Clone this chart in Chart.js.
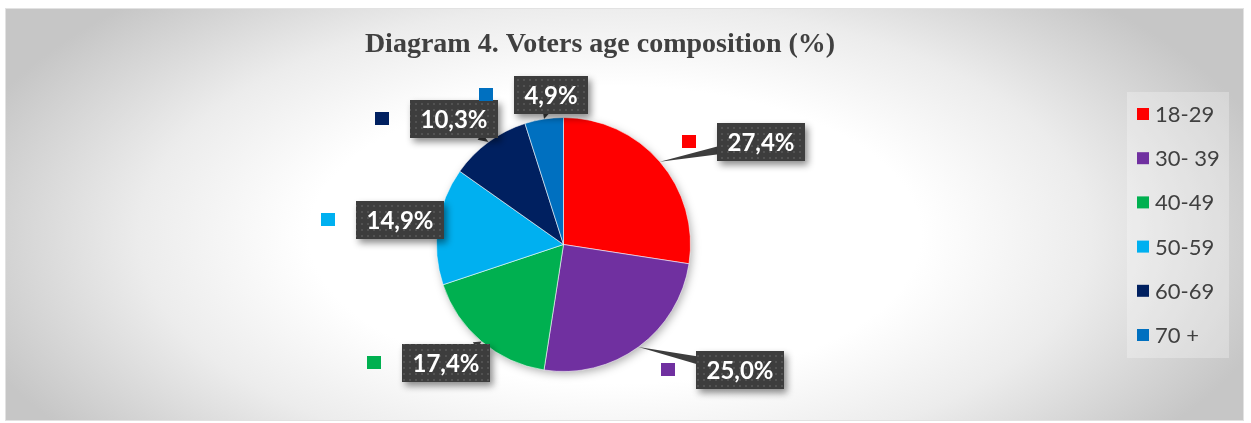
<!DOCTYPE html>
<html>
<head>
<meta charset="utf-8">
<script src="https://cdn.jsdelivr.net/npm/chart.js@4"></script>
<style>
  html, body { margin: 0; padding: 0; background: #ffffff; }
  #wrap { width: 1251px; height: 423px; position: relative; }
</style>
</head>
<body>
<div id="wrap"><canvas id="c"></canvas></div>
<script>
// ---- data ----
const categories = ['18-29', '30- 39', '40-49', '50-59', '60-69', '70 +'];
const shares = [27.4, 25.0, 17.4, 14.9, 10.3, 4.9];
const sliceColors = ['#FF0000', '#7030A0', '#00B050', '#00B0F0', '#002060', '#0070C0'];
const chartTitle = 'Diagram 4. Voters age composition (%)';

// ---- label layout (angle nudge in degrees, distance as multiple of radius) ----
const labelAngleNudge = [13.2, -18.4, 4.5, 0, -4.9, 4.2];
const labelDistance = [1.756, 1.709, 1.315, 1.30, 1.307, 1.18];

function fmt(v) { return v.toFixed(1).replace('.', ',') + '%'; }

function makePattern(ctx) {
  const p = document.createElement('canvas');
  p.width = 6; p.height = 6;
  const pc = p.getContext('2d');
  pc.fillStyle = '#3d3d3d';
  pc.fillRect(0, 0, 6, 6);
  pc.fillStyle = '#525252';
  pc.fillRect(1, 1, 2, 2);
  return ctx.createPattern(p, 'repeat');
}

const decorPlugin = {
  id: 'decor',
  beforeDraw(chart) {
    const ctx = chart.ctx;
    const W = chart.width, H = chart.height;
    ctx.save();
    ctx.fillStyle = '#ffffff';
    ctx.fillRect(0, 0, W, H);
    // panel with elliptical radial gradient
    const px = 5, py = 8, pw = 1239, ph = 413;
    ctx.save();
    ctx.beginPath();
    ctx.rect(px, py, pw, ph);
    ctx.clip();
    const cx = 615, cy = 235, rx = 680, ry = 330;
    ctx.translate(cx, cy);
    ctx.scale(rx / ry, 1);
    const g = ctx.createRadialGradient(0, 0, 0, 0, 0, ry);
    g.addColorStop(0, '#ffffff');
    g.addColorStop(0.45, '#ffffff');
    g.addColorStop(0.7, '#ececec');
    g.addColorStop(1, '#c6c6c6');
    ctx.fillStyle = g;
    ctx.fillRect(-2000, -2000, 4000, 4000);
    ctx.restore();
    ctx.strokeStyle = '#e2e2e2';
    ctx.lineWidth = 1;
    ctx.strokeRect(px + 0.5, py + 0.5, pw - 1, ph - 1);

    // title
    ctx.fillStyle = '#404040';
    ctx.font = 'bold 28px "Liberation Serif", "Times New Roman", serif';
    ctx.textAlign = 'center';
    ctx.textBaseline = 'alphabetic';
    ctx.fillText(chartTitle, 600, 52);

    // legend
    ctx.fillStyle = 'rgba(255,255,255,0.28)';
    ctx.fillRect(1127, 92, 102, 266);
    ctx.font = '22px Lato, sans-serif';
    ctx.textAlign = 'left';
    ctx.textBaseline = 'middle';
    categories.forEach((c, i) => {
      const y = 114 + i * 44.2;
      ctx.fillStyle = sliceColors[i];
      ctx.fillRect(1137, y - 6, 12, 12);
      ctx.fillStyle = '#404040';
      ctx.fillText(c, 1155, y + 1);
    });
    ctx.restore();
  },
  beforeDatasetsDraw(chart) {
    const arcs = chart.getDatasetMeta(0).data;
    if (!arcs.length) return;
    const a = arcs[0];
    const ctx = chart.ctx;
    ctx.save();
    ctx.shadowColor = 'rgba(0,0,0,0.35)';
    ctx.shadowBlur = 10;
    ctx.shadowOffsetX = 2;
    ctx.shadowOffsetY = 3;
    ctx.fillStyle = '#ffffff';
    ctx.beginPath();
    ctx.arc(a.x, a.y, a.outerRadius - 1, 0, Math.PI * 2);
    ctx.fill();
    ctx.restore();
  },
  afterDatasetsDraw(chart) {
    const ctx = chart.ctx;
    const arcs = chart.getDatasetMeta(0).data;
    const pattern = makePattern(ctx);
    ctx.save();
    ctx.font = 'bold 24px Lato, sans-serif';
    const boxes = arcs.map((arc, i) => {
      const mid = (arc.startAngle + arc.endAngle) / 2;
      const r = arc.outerRadius;
      const ex = arc.x + Math.cos(mid) * r;
      const ey = arc.y + Math.sin(mid) * r;
      const la = mid + labelAngleNudge[i] * Math.PI / 180;
      const lx = arc.x + Math.cos(la) * r * labelDistance[i];
      const ly = arc.y + Math.sin(la) * r * labelDistance[i];
      const text = fmt(shares[i]);
      const tw = ctx.measureText(text).width;
      const w = Math.round(tw + 21), h = 38;
      return { ex, ey, lx, ly, text, w, h, x: Math.round(lx - w / 2), y: Math.round(ly - h / 2) };
    });
    boxes.forEach((b, i) => {
      // leader wedge
      const inside = b.ex > b.x - 2 && b.ex < b.x + b.w + 2 && b.ey > b.y - 2 && b.ey < b.y + b.h + 2;
      const dx = b.lx - b.ex, dy = b.ly - b.ey;
      // intersection of segment edge->center with box border
      let t = 1;
      if (dx !== 0) {
        const tx1 = ((dx > 0 ? b.x : b.x + b.w) - b.ex) / dx;
        if (tx1 > 0 && tx1 < t) {
          const yy = b.ey + dy * tx1;
          if (yy >= b.y && yy <= b.y + b.h) t = tx1;
        }
      }
      if (dy !== 0) {
        const ty1 = ((dy > 0 ? b.y : b.y + b.h) - b.ey) / dy;
        if (ty1 > 0 && ty1 < t) {
          const xx = b.ex + dx * ty1;
          if (xx >= b.x && xx <= b.x + b.w) t = ty1;
        }
      }
      const bx = b.ex + dx * t, by = b.ey + dy * t;
      const len = Math.hypot(bx - b.ex, by - b.ey);
      if (!inside && len > 4) {
        const nx = -(by - b.ey) / len, ny = (bx - b.ex) / len;
        const hw = 4;
        ctx.save();
        ctx.fillStyle = '#3d3d3d';
        ctx.beginPath();
        ctx.moveTo(b.ex, b.ey);
        ctx.lineTo(bx + nx * hw + (bx - b.ex) / len * 3, by + ny * hw + (by - b.ey) / len * 3);
        ctx.lineTo(bx - nx * hw + (bx - b.ex) / len * 3, by - ny * hw + (by - b.ey) / len * 3);
        ctx.closePath();
        ctx.fill();
        ctx.restore();
      }
      // box
      ctx.save();
      ctx.shadowColor = 'rgba(0,0,0,0.45)';
      ctx.shadowBlur = 7;
      ctx.shadowOffsetX = 3;
      ctx.shadowOffsetY = 4;
      ctx.fillStyle = pattern;
      ctx.fillRect(b.x, b.y, b.w, b.h);
      ctx.restore();
      // text
      ctx.fillStyle = '#ffffff';
      ctx.textAlign = 'center';
      ctx.textBaseline = 'middle';
      ctx.fillText(b.text, b.x + b.w / 2, b.y + b.h / 2 + 1);
      // legend key
      ctx.fillStyle = sliceColors[i];
      ctx.fillRect(b.x - 35, Math.round(b.y + b.h / 2 - 7), 14, 13);
    });
    ctx.restore();
  }
};

new Chart(document.getElementById('c'), {
  type: 'pie',
  data: {
    labels: categories,
    datasets: [{
      data: shares,
      backgroundColor: sliceColors,
      borderColor: 'rgba(255,255,255,0.55)',
      borderWidth: 1
    }]
  },
  options: {
    responsive: true,
    maintainAspectRatio: false,
    animation: false,
    layout: { padding: { top: 117, bottom: 51, left: 436, right: 560 } },
    plugins: {
      legend: { display: false },
      title: { display: false },
      tooltip: { enabled: false }
    }
  },
  plugins: [decorPlugin]
});
</script>
</body>
</html>
